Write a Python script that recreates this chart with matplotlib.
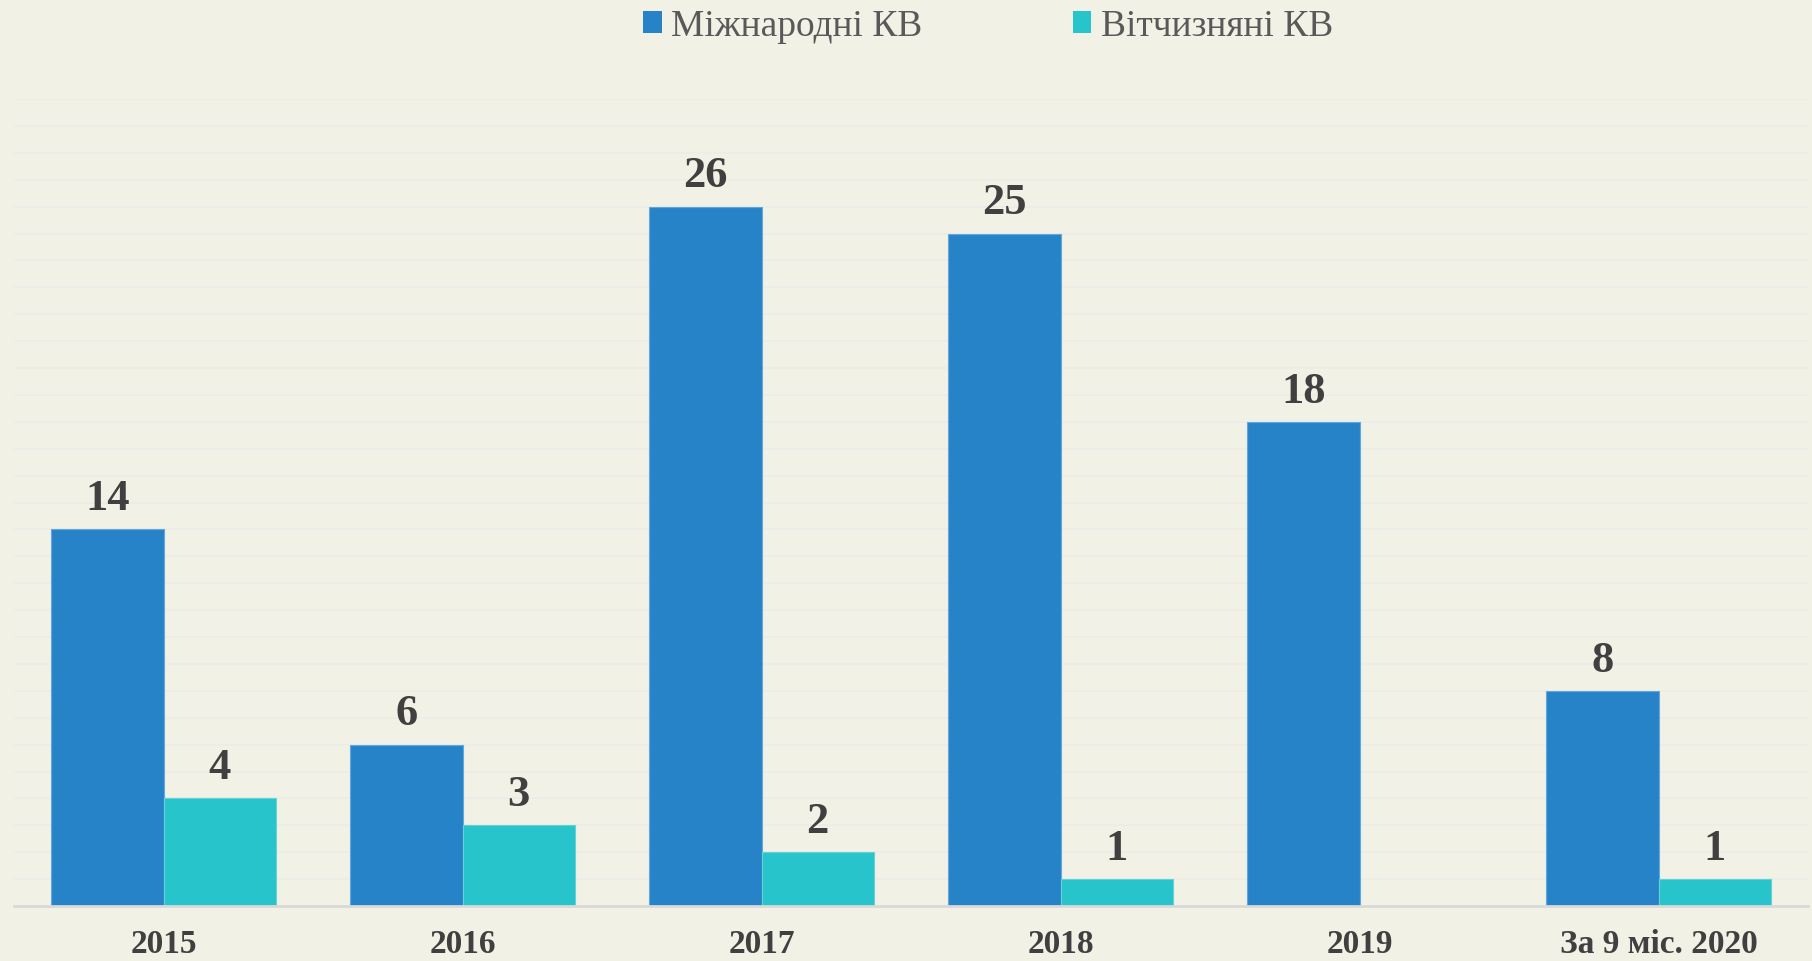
import matplotlib
matplotlib.use("Agg")
import matplotlib.pyplot as plt
import numpy as np

categories = ["2015", "2016", "2017", "2018", "2019", "За 9 міс. 2020"]
series_names = ["Міжнародні КВ", "Вітчизняні КВ"]
international = [14, 6, 26, 25, 18, 8]
domestic = [4, 3, 2, 1, None, 1]

colors = ["#2783C8", "#28C4CB"]
edge_colors = ["#63A8DD", "#63D3D8"]
bg = "#F2F1E6"

W, H = 1812, 962
fig = plt.figure(figsize=(W / 100, H / 100), dpi=100, facecolor=bg)
ax = fig.add_axes([14 / W, (H - 907) / H, (1808 - 14) / W, (907 - 100) / H])
ax.set_facecolor(bg)

x = np.arange(len(categories))
bw = 0.375
serif = ["Liberation Serif", "DejaVu Serif"]

for i, (vals, off) in enumerate([(international, -bw / 2), (domestic, bw / 2)]):
    xs = [xi + off for xi, v in zip(x, vals) if v is not None]
    vs = [v for v in vals if v is not None]
    ax.bar(xs, vs, width=bw, color=colors[i], edgecolor=edge_colors[i],
           linewidth=0.8, zorder=3, label=series_names[i])
    for xi, v in zip(xs, vs):
        ax.annotate(str(v), (xi, v), xytext=(0, 14.5), textcoords="offset points",
                    ha="center", va="baseline", fontsize=32, fontweight="bold",
                    color="#404040", family=serif, zorder=4)

ax.set_xlim(-0.5, len(categories) - 0.5)
ax.set_ylim(0, 30)
ax.set_yticks(np.arange(0, 31, 1))
ax.yaxis.grid(True, color="#ECEBE7", linewidth=1.2, zorder=0)
ax.set_axisbelow(True)
ax.tick_params(axis="y", left=False, labelleft=False)
ax.tick_params(axis="x", bottom=False, pad=12)
ax.set_xticks(x)
ax.set_xticklabels(categories, fontsize=24, fontweight="bold", color="#404040",
                   family=serif)
for s in ["top", "right", "left"]:
    ax.spines[s].set_visible(False)
ax.spines["bottom"].set_color("#D9D9D9")
ax.spines["bottom"].set_linewidth(2)
ax.spines["bottom"].set_zorder(5)

leg = fig.legend(loc="center", bbox_to_anchor=(988 / W, 1 - 27 / H), ncol=2,
                 frameon=False, prop={"family": serif, "size": 27},
                 handlelength=0.5, handleheight=0.5, handletextpad=0.25,
                 columnspacing=4.0, labelcolor="#595959")
for h in leg.legend_handles:
    h.set_edgecolor("none")

fig.savefig("out.png", dpi=100, facecolor=bg)
